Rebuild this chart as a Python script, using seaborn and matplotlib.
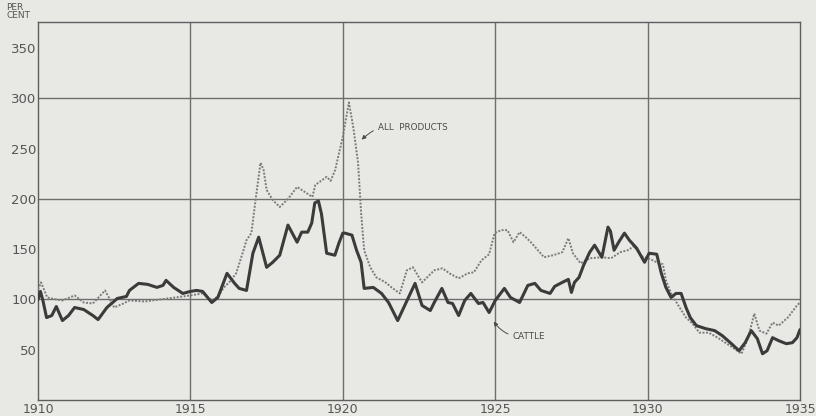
import pandas as pd
import matplotlib
matplotlib.use("Agg")
import matplotlib.pyplot as plt
import seaborn as sns
from matplotlib.ticker import MultipleLocator, FuncFormatter


OUTPUT_PATH = "out.png"

# Cattle price index, per cent (decimal year, value)
cattle_years = [
    1910.0, 1910.08, 1910.16, 1910.28, 1910.45, 1910.6, 1910.8, 1911.0, 1911.2,
    1911.5, 1911.8, 1911.97, 1912.26, 1912.6, 1912.9, 1913.0, 1913.3, 1913.6,
    1913.9, 1914.1, 1914.2, 1914.45, 1914.75, 1915.0, 1915.2, 1915.4, 1915.7,
    1915.9, 1916.2, 1916.45, 1916.6, 1916.84, 1917.05, 1917.24, 1917.5, 1917.7,
    1917.93, 1918.2, 1918.5, 1918.65, 1918.85, 1918.98, 1919.08, 1919.2, 1919.3,
    1919.47, 1919.74, 1919.87, 1920.0, 1920.07, 1920.3, 1920.45, 1920.6, 1920.7,
    1921.0, 1921.27, 1921.5, 1921.8, 1922.0, 1922.37, 1922.6, 1922.87, 1923.0,
    1923.25, 1923.45, 1923.6, 1923.8, 1924.0, 1924.2, 1924.45, 1924.6, 1924.8,
    1925.0, 1925.3, 1925.5, 1925.8, 1926.07, 1926.3, 1926.5, 1926.8, 1926.95,
    1927.2, 1927.4, 1927.5, 1927.6, 1927.75, 1927.9, 1928.1, 1928.26, 1928.5,
    1928.7, 1928.78, 1928.9, 1929.05, 1929.24, 1929.4, 1929.64, 1929.9, 1930.05,
    1930.3, 1930.45, 1930.6, 1930.77, 1930.93, 1931.1, 1931.26, 1931.4, 1931.6,
    1931.9, 1932.2, 1932.45, 1932.75, 1933.0, 1933.2, 1933.4, 1933.6, 1933.77,
    1933.92, 1934.1, 1934.3, 1934.55, 1934.75, 1934.9, 1935.0,
]
cattle_values = [
    100, 108, 99, 82, 84, 93, 79, 84, 92,
    90, 84, 80, 92, 101, 103, 109, 116, 115,
    112, 114, 119, 112, 106, 108, 109, 108, 97,
    102, 126, 116, 111, 109, 146, 162, 132, 137,
    144, 174, 157, 167, 167, 176, 196, 198, 185,
    146, 144, 156, 166, 166, 164, 149, 137, 111,
    112, 106, 97, 79, 92, 116, 94, 89, 97,
    111, 97, 96, 84, 99, 106, 96, 97, 87,
    99, 111, 102, 97, 114, 116, 109, 106, 113,
    117, 120, 107, 117, 122, 134, 147, 154, 142,
    172, 168, 149, 157, 166, 159, 151, 137, 146,
    145, 126, 112, 102, 106, 106, 92, 82, 74,
    71, 69, 64, 56, 49, 57, 69, 61, 46,
    49, 62, 59, 56, 57, 62, 70,
]

# All farm products price index, per cent
products_years = [
    1910.0, 1910.1, 1910.3, 1910.6, 1910.8, 1911.2, 1911.5, 1911.8, 1912.2,
    1912.5, 1912.8, 1913.0, 1913.5, 1914.0, 1914.5, 1915.0, 1915.4, 1915.7,
    1915.9, 1916.1, 1916.3, 1916.5, 1916.7, 1916.84, 1917.0, 1917.15, 1917.3,
    1917.4, 1917.5, 1917.7, 1917.93, 1918.2, 1918.5, 1918.65, 1919.0, 1919.1,
    1919.47, 1919.6, 1919.75, 1920.0, 1920.2, 1920.35, 1920.5, 1920.6, 1920.7,
    1920.9, 1921.1, 1921.4, 1921.6, 1921.87, 1922.1, 1922.3, 1922.6, 1923.0,
    1923.27, 1923.5, 1923.8, 1924.1, 1924.3, 1924.55, 1924.8, 1924.98, 1925.2,
    1925.4, 1925.6, 1925.8, 1926.0, 1926.2, 1926.6, 1926.9, 1927.2, 1927.4,
    1927.55, 1927.8, 1928.1, 1928.5, 1928.8, 1929.1, 1929.35, 1929.55, 1929.8,
    1930.1, 1930.3, 1930.5, 1930.6, 1930.77, 1931.05, 1931.26, 1931.47, 1931.7,
    1932.0, 1932.3, 1932.7, 1933.08, 1933.3, 1933.5, 1933.67, 1933.9, 1934.1,
    1934.3, 1934.6, 1934.9, 1935.0,
]
products_values = [
    110, 117, 102, 100, 99, 104, 97, 96, 109,
    92, 96, 99, 98, 100, 102, 104, 106, 99,
    103, 112, 118, 126, 145, 159, 166, 202, 236,
    229, 209, 199, 192, 200, 212, 209, 202, 214,
    222, 218, 229, 262, 296, 270, 236, 186, 149,
    132, 122, 117, 112, 106, 129, 132, 117, 129,
    131, 126, 121, 126, 127, 139, 145, 166, 169,
    169, 157, 167, 162, 156, 142, 144, 147, 161,
    146, 136, 141, 142, 141, 147, 149, 153, 143,
    140, 137, 135, 119, 106, 92, 82, 76, 67,
    67, 62, 54, 46, 62, 86, 69, 66, 77,
    74, 82, 94, 97,
]

y_ticks = [50, 100, 150, 200, 250, 300, 350]
x_label_years = [1910, 1915, 1920, 1925, 1930, 1935]


def plot_cattle_prices():

    sns.set_style("white")
    plt.rcParams["font.family"] = ["DejaVu Sans"]

    paper = "#e8e8e5"
    ink = "#555555"

    cattle = pd.DataFrame({"year": cattle_years, "index": cattle_values})
    products = pd.DataFrame({"year": products_years, "index": products_values})

    fig = plt.figure(figsize=(8.16, 4.16), dpi=100, facecolor=paper)
    ax = fig.add_axes([0.0466, 0.0385, 0.9338, 0.9085])
    ax.set_facecolor(paper)

    # grid lines only every 5 years and every 100 per cent
    for yr in [1915, 1920, 1925, 1930]:
        ax.axvline(yr, color="#6e6e6e", lw=1.0, zorder=1)
    for val in [100, 200, 300]:
        ax.axhline(val, color="#6e6e6e", lw=1.0, zorder=1)

    sns.lineplot(
        data=products, x="year", y="index", ax=ax,
        color="#7a7a7a", lw=1.4, linestyle=(0, (1, 0.8)), zorder=3
    )
    sns.lineplot(
        data=cattle, x="year", y="index", ax=ax,
        color="#3b3b3b", lw=2.2, zorder=4
    )

    ax.set_xlim(1910, 1935)
    ax.set_ylim(0, 376)
    ax.set_xlabel("")
    ax.set_ylabel("")

    for side in ["left", "right", "top", "bottom"]:
        ax.spines[side].set_color("#5e5e5e")
        ax.spines[side].set_linewidth(1.0)

    ax.set_yticks(y_ticks)
    ax.tick_params(
        axis="y", direction="in", length=5, width=0.8,
        color="#5e5e5e", labelcolor=ink, labelsize=9.5, pad=1
    )

    ax.xaxis.set_major_locator(MultipleLocator(1))
    ax.xaxis.set_minor_locator(MultipleLocator(0.25))
    ax.xaxis.set_major_formatter(
        FuncFormatter(lambda v, p: f"{int(round(v))}" if round(v) in x_label_years else "")
    )
    ax.tick_params(
        axis="x", which="major", direction="in", length=5, width=0.8,
        color="#5e5e5e", labelcolor=ink, labelsize=9, pad=2
    )
    ax.tick_params(
        axis="x", which="minor", direction="in", length=2, width=0.6,
        color="#5e5e5e"
    )

    fig.text(0.008, 0.952, "PER\nCENT", fontsize=6.5, color=ink,
             linespacing=0.8, va="bottom")

    ax.annotate(
        "ALL  PRODUCTS", xy=(1920.62, 259), xytext=(1921.15, 271),
        fontsize=6.3, color="#4a4a4a", va="center",
        arrowprops=dict(arrowstyle="-|>", color="#4a4a4a", lw=0.7,
                        connectionstyle="arc3,rad=0.3", mutation_scale=6,
                        shrinkA=1, shrinkB=0)
    )
    ax.annotate(
        "CATTLE", xy=(1924.95, 78), xytext=(1925.57, 63),
        fontsize=6.3, color="#4a4a4a", va="center",
        arrowprops=dict(arrowstyle="-|>", color="#4a4a4a", lw=0.7,
                        connectionstyle="arc3,rad=-0.3", mutation_scale=6,
                        shrinkA=1, shrinkB=0)
    )

    fig.savefig(OUTPUT_PATH, dpi=100, facecolor=paper)


if __name__ == "__main__":

    plot_cattle_prices()
